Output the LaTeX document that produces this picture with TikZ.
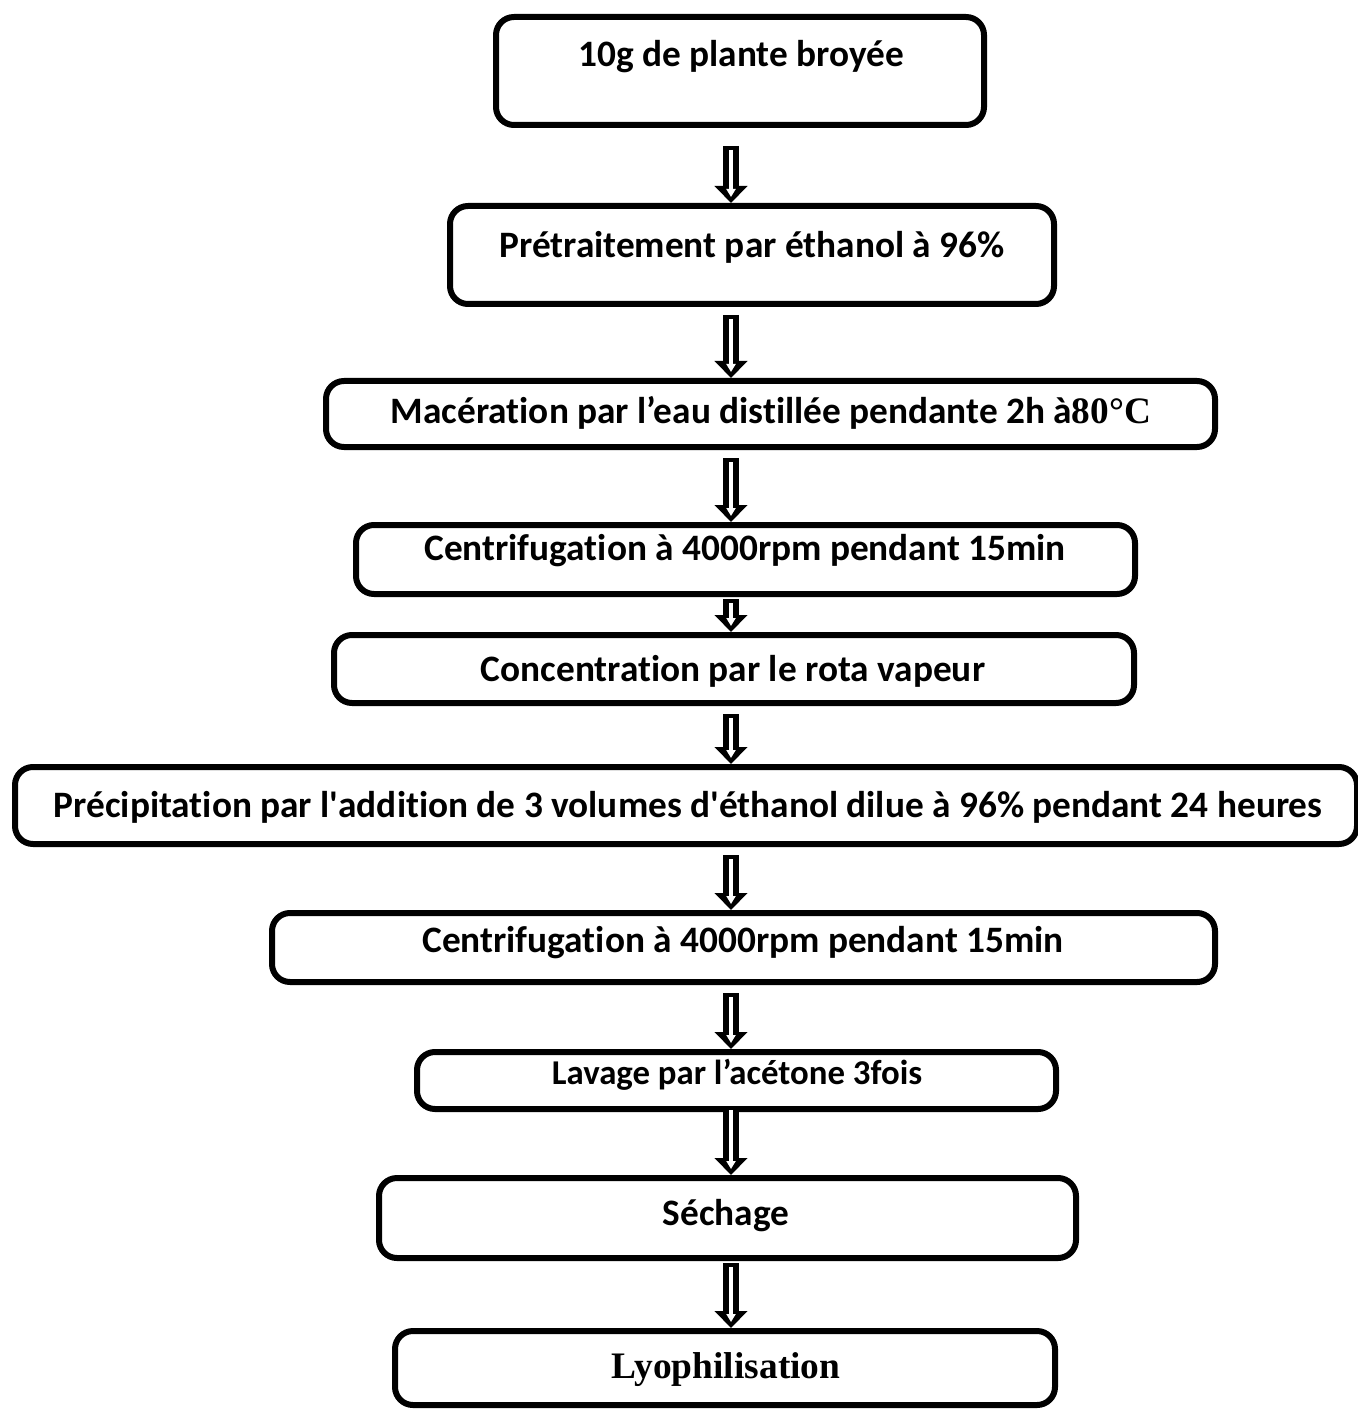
\documentclass[tikz,border=0pt]{standalone}
\usepackage{fontspec}
\setmainfont[Ligatures=NoCommon]{Carlito}
\newfontfamily\timesfont{Liberation Serif}
\usetikzlibrary{arrows.meta}
\tikzset{
  stepbox/.style={draw=black,line width=3pt,rounded corners=9pt,fill=white,inner sep=0pt},
  steptext/.style={font=\bfseries\fontsize{18.65}{21}\selectfont,inner sep=0pt,anchor=center},
  arrout/.style={draw=black,line width=8pt,-{Triangle[width=16pt,length=8.5pt]}},
  arrin/.style={draw=white,line width=2pt,shorten >=3pt,-{Triangle[width=4.5pt,length=4pt]}},
}

\begin{document}
\begin{tikzpicture}[x=0.5pt,y=-0.5pt]
\useasboundingbox (0,0) rectangle (1357,1422);
\coordinate (ax) at (731,0);
% boxes
\node[stepbox,minimum width=244pt,minimum height=54pt] (b1) at (740,71) {};
\node[stepbox,minimum width=302pt,minimum height=49pt] (b2) at (752,255) {};
\node[stepbox,minimum width=444.5pt,minimum height=33pt] (b3) at (770.5,414) {};
\node[stepbox,minimum width=389.5pt,minimum height=34.5pt] (b4) at (745.5,559.5) {};
\node[stepbox,minimum width=400pt,minimum height=34pt] (b5) at (734,669) {};
\node[stepbox,minimum width=671pt,minimum height=38.5pt] (b6) at (686,805.5) {};
\node[stepbox,minimum width=471.5pt,minimum height=34.5pt] (b7) at (743.5,947.5) {};
\node[stepbox,minimum width=319.5pt,minimum height=28.5pt] (b8) at (736.5,1080.5) {};
\node[stepbox,minimum width=348.5pt,minimum height=40pt] (b9) at (727.5,1218) {};
\node[stepbox,minimum width=330pt,minimum height=37pt] (b10) at (725,1368) {};
% texts
\node[steptext] (t1) at (741,57) {10g de plante broyée};
\node[steptext] (t2) at (752,247) {Prétraitement par éthanol à 96\%};
\node[steptext] (t3) at (771,413) {Macération par l’eau distillée pendante 2h à{\timesfont 80°C}};
\node[steptext] (t4) at (745,551) {Centrifugation à 4000rpm pendant 15min};
\node[steptext] (t5) at (733,671) {Concentration par le rota vapeur};
\node[steptext] (t6) at (688,807) {Précipitation par l\textquotesingle addition de 3 volumes d\textquotesingle éthanol dilue à 96\% pendant 24 heures};
\node[steptext] (t7) at (743,943) {Centrifugation à 4000rpm pendant 15min};
\node[steptext,font=\bfseries\fontsize{17.4}{20}\selectfont] (t8) at (737,1075) {Lavage par l’acétone 3fois};
\node[steptext] (t9) at (726,1216) {Séchage};
\node[steptext,font=\timesfont\bfseries\fontsize{18.7}{21}\selectfont] (t10) at (726,1370) {Lyophilisation};
% arrows
\foreach \a/\b/\s in {b1/b2/9pt,b2/b3/4pt,b3/b4/4pt,b4/b5/1pt,b5/b6/4pt,b6/b7/4pt,b7/b8/4pt,b8/b9/-3pt,b9/b10/1pt}{
  \draw[arrout,shorten <=\s] (\a.south -| ax) -- (\b.north -| ax);
  \draw[arrin,shorten <=\s+2pt] (\a.south -| ax) -- (\b.north -| ax);
}
\end{tikzpicture}
\end{document}
